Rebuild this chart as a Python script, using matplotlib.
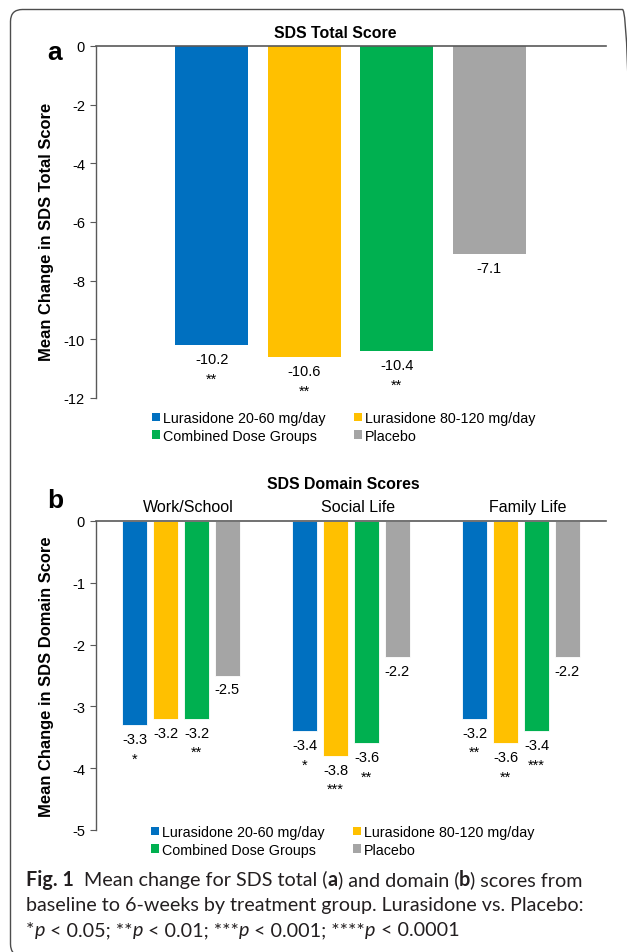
import numpy as np
import matplotlib.pyplot as plt
from matplotlib.patches import FancyBboxPatch, Patch
from matplotlib.transforms import IdentityTransform

# ---------------- data ----------------
groups = ['Lurasidone 20-60 mg/day', 'Lurasidone 80-120 mg/day',
          'Combined Dose Groups', 'Placebo']
colors = ['#0070C0', '#FFC000', '#00B050', '#A5A5A5']

total = [-10.2, -10.6, -10.4, -7.1]
total_sig = ['**', '**', '**', '']

domains = ['Work/School', 'Social Life', 'Family Life']
# one list per treatment group, values per domain
dom_vals = [[-3.3, -3.4, -3.2],
            [-3.2, -3.8, -3.6],
            [-3.2, -3.6, -3.4],
            [-2.5, -2.2, -2.2]]
dom_sig = [['*', '*', '**'],
           ['', '***', '**'],
           ['**', '**', '***'],
           ['', '', '']]

W, H = 627, 953
plt.rcParams['font.family'] = ['Liberation Sans', 'DejaVu Sans']
fig = plt.figure(figsize=(W / 100, H / 100), dpi=100)

def fx(px): return px / W
def fy(py): return 1 - py / H

axcol = '#595959'

def style_ax(ax, ylim, yticks):
    for s in ['right', 'bottom']:
        ax.spines[s].set_visible(False)
    ax.spines['left'].set_color(axcol)
    ax.spines['top'].set_color(axcol)
    ax.spines['left'].set_linewidth(1.0)
    ax.spines['top'].set_linewidth(1.2)
    ax.set_ylim(ylim)
    ax.set_yticks(yticks)
    ax.set_yticklabels([f'{t:g}' for t in yticks])
    ax.tick_params(axis='y', direction='out', length=4, color=axcol, labelsize=10.5, pad=4)
    ax.set_xticks([])

def legend(ax, top_px, left_px):
    order = [0, 2, 1, 3]
    handles = [Patch(facecolor=colors[i], edgecolor='none', label=groups[i]) for i in order]
    ax.legend(handles=handles, ncol=2, loc='upper left', frameon=False,
              bbox_to_anchor=(fx(left_px), fy(top_px)), bbox_transform=fig.transFigure,
              fontsize=10.3, handlelength=0.55, handleheight=0.55, handletextpad=0.25,
              columnspacing=1.95, labelspacing=0.25, borderpad=0, borderaxespad=0)

def annotate(ax, x, v, sig):
    ax.annotate(f'{v:g}', (x, v), xytext=(0, -5), textcoords='offset points',
                ha='center', va='top', fontsize=10.5)
    if sig:
        ax.annotate(sig, (x, v), xytext=(0, -19), textcoords='offset points',
                    ha='center', va='top', fontsize=10.5)

# ---------------- panel a ----------------
axa = fig.add_axes([fx(96), fy(399), fx(606) - fx(96), fy(47) - fy(399)])
xa = np.arange(len(total))
axa.bar(xa, total, width=0.79, color=colors)
axa.set_xlim(-1.25, 4.26)
style_ax(axa, (-12, 0), [0, -2, -4, -6, -8, -10, -12])
for x, v, s in zip(xa, total, total_sig):
    annotate(axa, x, v, s)
legend(axa, 412, 152)
fig.text(fx(335), fy(33), 'SDS Total Score', ha='center', va='center',
         fontsize=11.4, fontweight='bold')
fig.text(fx(55), fy(60), 'a', ha='center', va='baseline', fontsize=19, fontweight='bold')
fig.text(fx(47), fy(232), 'Mean Change in SDS Total Score', ha='center', va='center',
         rotation=90, fontsize=11.9, fontweight='bold')

# ---------------- panel b ----------------
axb = fig.add_axes([fx(96), fy(831), fx(606) - fx(96), fy(522) - fy(831)])
xb = np.arange(len(domains))
step, bw = 0.182, 0.144
for j in range(len(groups)):
    pos = xb + (j - 1.5) * step
    axb.bar(pos, dom_vals[j], width=bw, color=colors[j], edgecolor='white', linewidth=0.6)
    for x, v, s in zip(pos, dom_vals[j], dom_sig[j]):
        annotate(axb, x, v, s)
axb.set_xlim(-0.5, 2.5)
style_ax(axb, (-5, 0), [0, -1, -2, -3, -4, -5])
for x, name in zip(xb, domains):
    axb.annotate(name, (x, 0), xytext=(5, 5), textcoords='offset points',
                 ha='center', va='bottom', fontsize=11.5)
legend(axb, 826, 151)
fig.text(fx(343), fy(485), 'SDS Domain Scores', ha='center', va='center',
         fontsize=11.4, fontweight='bold')
fig.text(fx(55), fy(508), 'b', ha='center', va='baseline', fontsize=19, fontweight='bold')
fig.text(fx(47), fy(677), 'Mean Change in SDS Domain Score', ha='center', va='center',
         rotation=90, fontsize=11.9, fontweight='bold')

# ---------------- frame + caption ----------------
frame = FancyBboxPatch((10.5, -4), 624, H - 10.5 + 4, boxstyle='round,pad=0,rounding_size=12',
                       transform=IdentityTransform(), facecolor='none', edgecolor='#4d4d4d',
                       linewidth=1.0)
fig.add_artist(frame)

capfont = ['Lato', 'DejaVu Sans']
capsize = 14.2
capcol = '#231f20'
caption = [
    [('Fig. 1', 'bold', 'normal'), ('  Mean change for SDS total (', 'normal', 'normal'),
     ('a', 'bold', 'normal'), (') and domain (', 'normal', 'normal'), ('b', 'bold', 'normal'),
     (') scores from', 'normal', 'normal')],
    [('baseline to 6-weeks by treatment group. Lurasidone vs. Placebo:', 'normal', 'normal')],
    [('*', 'normal', 'normal'), ('p', 'normal', 'italic'), (' < 0.05; **', 'normal', 'normal'),
     ('p', 'normal', 'italic'), (' < 0.01; ***', 'normal', 'normal'), ('p', 'normal', 'italic'),
     (' < 0.001; ****', 'normal', 'normal'), ('p', 'normal', 'italic'),
     (' < 0.0001', 'normal', 'normal')],
]
baselines = [886, 911, 936]
renderer = fig.canvas.get_renderer()
for line, yb in zip(caption, baselines):
    x = 26
    for s, w, st in line:
        t = fig.text(fx(x), fy(yb), s, fontsize=capsize, fontweight=w, style=st,
                     family=capfont, color=capcol, va='baseline', ha='left')
        x += t.get_window_extent(renderer).width

fig.savefig('out.png', dpi=100)
